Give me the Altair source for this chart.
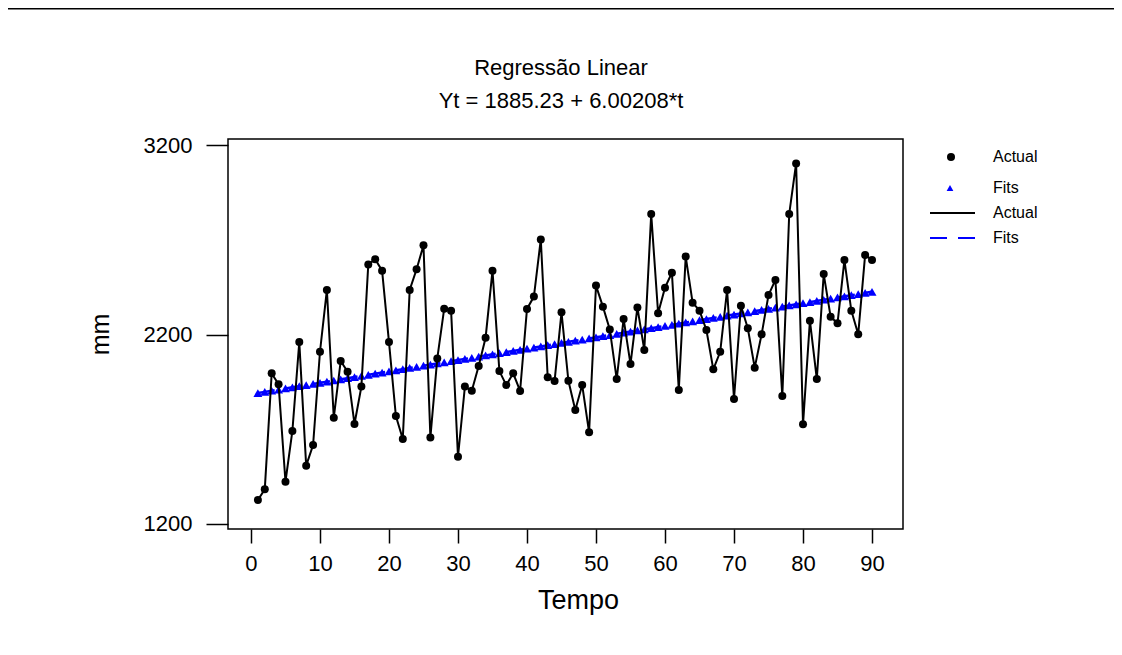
import altair as alt
import pandas as pd

# ---------------- data ----------------
tempo = list(range(1, 91))
mm = [
    1327, 1383, 1995, 1937, 1423, 1691, 2160, 1508, 1617, 2109,
    2435, 1761, 2060, 2004, 1728, 1925, 2570, 2597, 2537, 2160,
    1770, 1649, 2435, 2544, 2671, 1657, 2074, 2336, 2326, 1555,
    1925, 1903, 2034, 2183, 2537, 2007, 1933, 1995, 1902, 2335,
    2400, 2702, 1974, 1955, 2317, 1956, 1802, 1933, 1684, 2458,
    2347, 2227, 1965, 2282, 2044, 2343, 2118, 2836, 2312, 2447,
    2526, 1907, 2611, 2368, 2326, 2224, 2016, 2109, 2435, 1860,
    2352, 2233, 2025, 2201, 2408, 2488, 1875, 2836, 3103, 1726,
    2273, 1965, 2519, 2294, 2259, 2593, 2326, 2201, 2620, 2593,
]
# trend equation shown in the chart subtitle
INTERCEPT = 1885.23
SLOPE = 6.00208

title_text = ["Regressão Linear"]
subtitle_text = ["Yt = 1885.23 + 6.00208*t"]
x_ticks = [0, 10, 20, 30, 40, 50, 60, 70, 80, 90]
y_ticks = [1200, 2200, 3200]
legend_labels = ["Actual", "Fits", "Actual", "Fits"]

df = pd.DataFrame({"t": tempo, "mm": mm})

# ---------------- styling ----------------
FONT = "Liberation Sans"
BLUE = "#0000FF"
W, H = 675, 390
PAD = {"left": 220, "top": 131, "right": 211, "bottom": 118}
SVG_W = PAD["left"] + W + PAD["right"]
SVG_H = PAD["top"] + H + PAD["bottom"]

xs = alt.Scale(domain=[-3.33, 94.49], nice=False, zero=False)
ys = alt.Scale(domain=[1173.6, 3231.7], nice=False, zero=False)

x_axis = alt.Axis(
    values=x_ticks, tickSize=14, tickWidth=1.5, tickColor="black",
    labelFontSize=22, labelFont=FONT, labelColor="black", labelPadding=10,
    domain=False, grid=False,
    title="Tempo", titleFont=FONT, titleFontSize=27, titleFontWeight="normal",
    titleColor="black", titleX=350, titleY=71, titleBaseline="middle", titleAlign="center",
)
y_axis = alt.Axis(
    values=y_ticks, format="d", tickSize=22, tickWidth=1.5, tickColor="black",
    labelFontSize=22, labelFont=FONT, labelColor="black", labelPadding=14,
    domain=False, grid=False,
    title="mm", titleFont=FONT, titleFontSize=25, titleFontWeight="normal",
    titleColor="black", titleX=-128, titleY=195, titleAngle=-90,
    titleBaseline="middle", titleAlign="center",
)

X = alt.X("t:Q", scale=xs, axis=x_axis)

base = alt.Chart(df).transform_calculate(fit=f"{INTERCEPT} + {SLOPE} * datum.t")

fit_line = base.mark_line(color=BLUE, strokeDash=[17, 11], strokeWidth=2.5).encode(
    x=X, y=alt.Y("fit:Q", scale=ys, axis=y_axis)
)
fit_pts = base.mark_point(shape="triangle-up", filled=True, color=BLUE, size=80, opacity=1).encode(
    x=X, y=alt.Y("fit:Q", scale=ys, axis=y_axis)
)
act_line = base.mark_line(color="black", strokeWidth=2).encode(
    x=X, y=alt.Y("mm:Q", scale=ys, axis=y_axis)
)
act_pts = base.mark_circle(color="black", size=64, opacity=1).encode(
    x=X, y=alt.Y("mm:Q", scale=ys, axis=y_axis)
)

# ---------------- titles ----------------
def text_layer(txt, x, y, size, align="center", baseline="alphabetic"):
    return alt.Chart(pd.DataFrame({"txt": txt})).mark_text(
        font=FONT, fontSize=size, color="black", align=align, baseline=baseline
    ).encode(text="txt:N", x=alt.value(x), y=alt.value(y))

title_l = text_layer(title_text, 333, -64, 22)
subtitle_l = text_layer(subtitle_text, 333, -31, 22)

# ---------------- manual legend (Minitab style) ----------------
LX = 951 - 228
TX = 993 - 228
leg_rows = [157 - 139, 188 - 139, 213 - 139, 238 - 139]
one = pd.DataFrame({"k": [0]})

leg_dot = alt.Chart(one).mark_circle(color="black", size=64, opacity=1).encode(
    x=alt.value(LX), y=alt.value(leg_rows[0]))
leg_tri = alt.Chart(one).mark_point(shape="triangle-up", filled=True, color=BLUE, size=45, opacity=1).encode(
    x=alt.value(LX - 1), y=alt.value(leg_rows[1]))
leg_line = alt.Chart(one).mark_rule(color="black", strokeWidth=2).encode(
    x=alt.value(930 - 228), x2=alt.value(975 - 228), y=alt.value(leg_rows[2]))
leg_dash = alt.Chart(one).mark_rule(color=BLUE, strokeWidth=2, strokeDash=[17, 11]).encode(
    x=alt.value(930 - 228), x2=alt.value(975 - 228), y=alt.value(leg_rows[3]))
leg_texts = [
    text_layer([legend_labels[i]], TX, leg_rows[i], 16, align="left", baseline="middle")
    for i in range(4)
]

# ---------------- outer window edge (top only) ----------------
edge_top = alt.Chart(pd.DataFrame({"edge": ["top"]})).mark_rect(color="black", strokeWidth=0).encode(
    x=alt.value(-PAD["left"]), x2=alt.value(SVG_W - PAD["left"]),
    y=alt.value(-PAD["top"]), y2=alt.value(-PAD["top"] + 1.5))

chart = alt.layer(
    fit_line, fit_pts, act_line, act_pts,
    title_l, subtitle_l,
    leg_dot, leg_tri, leg_line, leg_dash, *leg_texts,
    edge_top,
).properties(
    width=W, height=H, padding=PAD,
    autosize=alt.AutoSizeParams(type="none"),
).configure_view(stroke="black", strokeWidth=1.5)

chart.save("out.html", embed_options={"renderer": "svg", "actions": False})
